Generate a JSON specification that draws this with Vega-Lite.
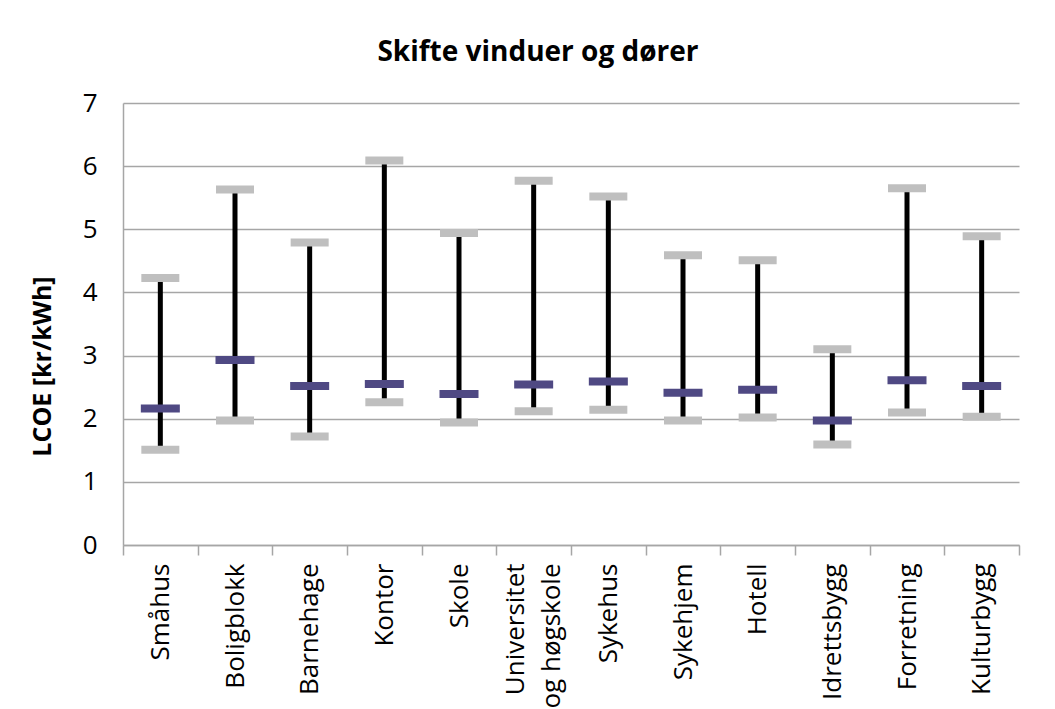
{
  "$schema": "https://vega.github.io/schema/vega-lite/v6.json",
  "width": 896,
  "height": 442,
  "autosize": {"type": "none"},
  "padding": {"left": 123, "top": 103, "right": 36, "bottom": 164},
  "background": "white",
  "title": {
    "text": "Skifte vinduer og dører",
    "font": "Open Sans",
    "fontSize": 28,
    "fontWeight": "bold",
    "color": "#000000",
    "dx": -33,
    "offset": 23
  },
  "data": {
    "values": [
      {"kategori": "Småhus", "lav": 1.51, "midt": 2.16, "hoy": 4.23},
      {"kategori": "Boligblokk", "lav": 1.97, "midt": 2.93, "hoy": 5.63},
      {"kategori": "Barnehage", "lav": 1.72, "midt": 2.52, "hoy": 4.79},
      {"kategori": "Kontor", "lav": 2.26, "midt": 2.55, "hoy": 6.09},
      {"kategori": "Skole", "lav": 1.94, "midt": 2.39, "hoy": 4.94},
      {"kategori": "Universitet og høgskole", "lav": 2.12, "midt": 2.54, "hoy": 5.77},
      {"kategori": "Sykehus", "lav": 2.14, "midt": 2.59, "hoy": 5.52},
      {"kategori": "Sykehjem", "lav": 1.97, "midt": 2.41, "hoy": 4.59},
      {"kategori": "Hotell", "lav": 2.02, "midt": 2.46, "hoy": 4.51},
      {"kategori": "Idrettsbygg", "lav": 1.59, "midt": 1.97, "hoy": 3.10},
      {"kategori": "Forretning", "lav": 2.10, "midt": 2.61, "hoy": 5.65},
      {"kategori": "Kulturbygg", "lav": 2.03, "midt": 2.52, "hoy": 4.89}
    ]
  },
  "encoding": {
    "x": {
      "field": "kategori",
      "type": "nominal",
      "sort": null,
      "scale": {"type": "band", "paddingInner": 0, "paddingOuter": 0},
      "axis": {
        "title": null,
        "labelAngle": -90,
        "tickBand": "extent",
        "labelExpr": "datum.label == 'Universitet og høgskole' ? ['Universitet', 'og høgskole'] : datum.label",
        "labelOffset": {"condition": {"test": "datum.value == 'Universitet og høgskole'", "value": -18}, "value": 0}
      }
    }
  },
  "layer": [
    {
      "mark": {"type": "rule", "color": "#000000", "strokeWidth": 5},
      "encoding": {
        "y": {
          "field": "lav",
          "type": "quantitative",
          "scale": {"domain": [0, 7], "nice": false},
          "axis": {"title": "LCOE [kr/kWh]", "values": [0, 1, 2, 3, 4, 5, 6, 7], "format": "d"}
        },
        "y2": {"field": "hoy"}
      }
    },
    {
      "mark": {"type": "tick", "color": "#BFBFBF", "size": 38, "thickness": 8, "opacity": 1},
      "encoding": {"y": {"field": "lav", "type": "quantitative"}}
    },
    {
      "mark": {"type": "tick", "color": "#BFBFBF", "size": 38, "thickness": 8, "opacity": 1},
      "encoding": {"y": {"field": "hoy", "type": "quantitative"}}
    },
    {
      "mark": {"type": "tick", "color": "#4F4983", "size": 39, "thickness": 8, "opacity": 1},
      "encoding": {"y": {"field": "midt", "type": "quantitative"}}
    }
  ],
  "config": {
    "view": {"stroke": null},
    "axis": {
      "labelFont": "Open Sans",
      "labelColor": "#000000",
      "domainColor": "#A6A6A6",
      "domainWidth": 1.5,
      "tickColor": "#A6A6A6",
      "tickWidth": 1.5,
      "gridColor": "#A6A6A6",
      "gridWidth": 1.5
    },
    "axisX": {
      "labelFontSize": 26,
      "tickSize": 10,
      "labelPadding": 8,
      "labelLineHeight": 36,
      "grid": false
    },
    "axisY": {
      "labelFontSize": 26,
      "ticks": false,
      "labelPadding": 26,
      "grid": true,
      "titleFont": "Open Sans",
      "titleFontSize": 25,
      "titleFontWeight": "bold",
      "titleColor": "#000000",
      "titleX": -68,
      "titleY": 263
    }
  }
}
